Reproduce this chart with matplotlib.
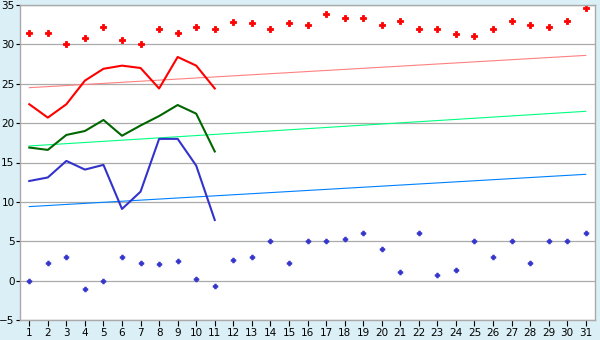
import matplotlib
matplotlib.use("Agg")
import matplotlib.pyplot as plt

days = list(range(1, 32))

# record highs / lows per day
record_max = [31.4, 31.5, 30.0, 30.8, 32.2, 30.6, 30.0, 31.9, 31.5, 32.2, 32.0,
              32.9, 32.7, 32.0, 32.7, 32.4, 33.9, 33.3, 33.4, 32.5, 33.0, 31.9,
              32.0, 31.3, 31.1, 31.9, 33.0, 32.5, 32.2, 33.0, 34.6]
record_min = [0.0, 2.2, 3.0, -1.0, 0.0, 3.0, 2.2, 2.1, 2.45, 0.2, -0.7,
              2.6, 3.0, 5.0, 2.2, 5.0, 5.0, 5.25, 6.0, 4.0, 1.05, 6.0,
              0.68, 1.3, 5.0, 3.0, 5.0, 2.2, 5.0, 5.0, 6.0]

# observed values (first 11 days)
obs_days = list(range(1, 12))
obs_max = [22.4, 20.7, 22.4, 25.4, 26.9, 27.3, 27.0, 24.4, 28.4, 27.3, 24.4]
obs_mean = [16.9, 16.6, 18.5, 19.0, 20.4, 18.4, 19.7, 20.9, 22.3, 21.2, 16.4]
obs_min = [12.65, 13.1, 15.2, 14.1, 14.7, 9.1, 11.3, 18.0, 18.0, 14.6, 7.7]

# normals (start and end of month)
norm_days = [1, 31]
norm_max = [24.5, 28.6]
norm_mean = [17.1, 21.5]
norm_min = [9.4, 13.5]

bg = "#daeff6"
fig = plt.figure(figsize=(6, 3.4), dpi=100, facecolor=bg)
ax = fig.add_axes([20 / 600, 20 / 340, 575 / 600, 315 / 340])
ax.set_facecolor("white")

ax.grid(True, axis="y", color="#aaaaaa", linewidth=0.9)
ax.set_axisbelow(True)

ax.plot(norm_days, norm_max, color="#ff8080", linewidth=0.8)
ax.plot(norm_days, norm_mean, color="#00ff80", linewidth=0.8)
ax.plot(norm_days, norm_min, color="#0080ff", linewidth=0.8)

ax.plot(obs_days, obs_max, color="#ff0000", linewidth=1.5)
ax.plot(obs_days, obs_mean, color="#006600", linewidth=1.5)
ax.plot(obs_days, obs_min, color="#3333cc", linewidth=1.5)

ax.plot(days, record_max, linestyle="none", marker="P", markersize=4,
        color="#ff0000", markeredgewidth=0.6)
ax.plot(days, record_min, linestyle="none", marker="P", markersize=3.5,
        color="#3333cc", markeredgewidth=0.5)

ax.set_xlim(0.5, 31.5)
ax.set_ylim(-5, 35)
ax.set_xticks(days)
ax.set_yticks(range(-5, 36, 5))

for s in ax.spines.values():
    s.set_color("#aaaaaa")
    s.set_linewidth(1)

ax.tick_params(axis="both", colors="black", labelsize=7.5, width=0.8)
ax.tick_params(axis="x", length=4, pad=2)
ax.tick_params(axis="y", length=3, pad=1)

fig.savefig("out.png", dpi=100, facecolor=bg)
